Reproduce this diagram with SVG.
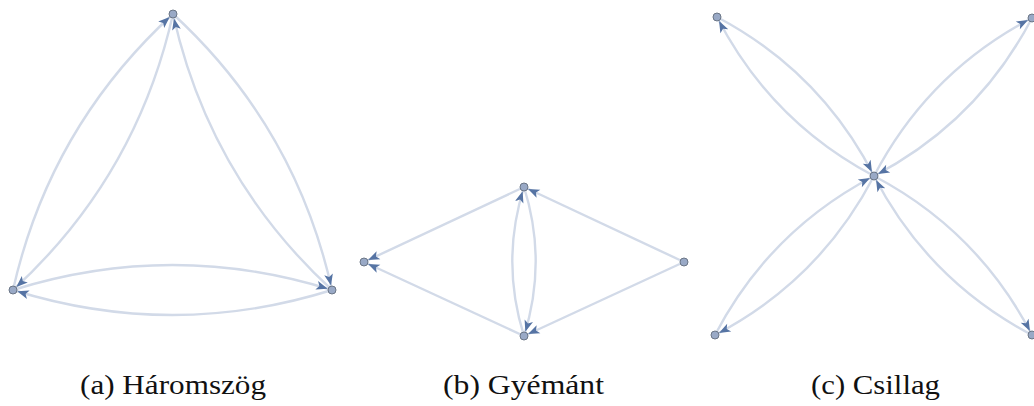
<svg xmlns="http://www.w3.org/2000/svg" width="1034" height="406" viewBox="0 0 1034 406">
<style>
.e{fill:none;stroke:#d2dae8;stroke-width:2.4;marker-end:url(#ah)}
.n{fill:#99a9c6;stroke:#6b7686;stroke-width:1}
.cap{font-family:"Liberation Serif","DejaVu Serif","Times New Roman",serif;font-size:27px;fill:#111}
</style>
<defs>
<marker id="ah" markerUnits="userSpaceOnUse" markerWidth="20" markerHeight="12" viewBox="-16 -6 20 12" refX="0" refY="0" orient="auto" overflow="visible">
<path d="M-4.5,0 L-16,-4.4 L-13.2,0 L-16,4.4 Z" fill="#5674a4"/>
</marker>
</defs>
<rect width="1034" height="406" fill="#fff"/>
<g id="connectors">
<path class="e" d="M13,290 Q49.7,126.9 173,14"/>
<path class="e" d="M173,14 Q136.3,177.1 13,290"/>
<path class="e" d="M173,14 Q295.8,127 332,290"/>
<path class="e" d="M332,290 Q209.2,177 173,14"/>
<path class="e" d="M13,290 Q172.5,240 332,290"/>
<path class="e" d="M332,290 Q172.5,340 13,290"/>
<path class="e" d="M684,262 L524,187"/>
<path class="e" d="M684,262 L524,336"/>
<path class="e" d="M524,187 L364,262"/>
<path class="e" d="M524,336 L364,262"/>
<path class="e" d="M524,187 Q547.4,261.5 524,336"/>
<path class="e" d="M524,336 Q500.6,261.5 524,187"/>
<path class="e" d="M717,17 Q820.5,71.8 874,176"/>
<path class="e" d="M874,176 Q770.5,121.2 717,17"/>
<path class="e" d="M1032,18 Q977.8,121.8 874,176"/>
<path class="e" d="M874,176 Q928.2,72.2 1032,18"/>
<path class="e" d="M715,335 Q769.5,230.5 874,176"/>
<path class="e" d="M874,176 Q819.5,280.5 715,335"/>
<path class="e" d="M1032,335 Q928,280.3 874,176"/>
<path class="e" d="M874,176 Q978,230.7 1032,335"/>
</g>
<g id="tri-top"><circle class="n" cx="173" cy="14" r="4"/></g>
<g id="tri-left"><circle class="n" cx="13" cy="290" r="4"/></g>
<g id="tri-right"><circle class="n" cx="332" cy="290" r="4"/></g>
<g id="dia-left"><circle class="n" cx="364" cy="262" r="4"/></g>
<g id="dia-top"><circle class="n" cx="524" cy="187" r="4"/></g>
<g id="dia-right"><circle class="n" cx="684" cy="262" r="4"/></g>
<g id="dia-bottom"><circle class="n" cx="524" cy="336" r="4"/></g>
<g id="star-center"><circle class="n" cx="874" cy="176" r="4"/></g>
<g id="star-tl"><circle class="n" cx="717" cy="17" r="4"/></g>
<g id="star-tr"><circle class="n" cx="1032" cy="18" r="4"/></g>
<g id="star-bl"><circle class="n" cx="715" cy="335" r="4"/></g>
<g id="star-br"><circle class="n" cx="1032" cy="335" r="4"/></g>
<g id="captions">
<text class="cap" x="80" y="394" textLength="186" lengthAdjust="spacingAndGlyphs">(a) Háromszög</text>
<text class="cap" x="443" y="394" textLength="161" lengthAdjust="spacingAndGlyphs">(b) Gyémánt</text>
<text class="cap" x="811" y="394" textLength="129" lengthAdjust="spacingAndGlyphs">(c) Csillag</text>
</g>
</svg>
